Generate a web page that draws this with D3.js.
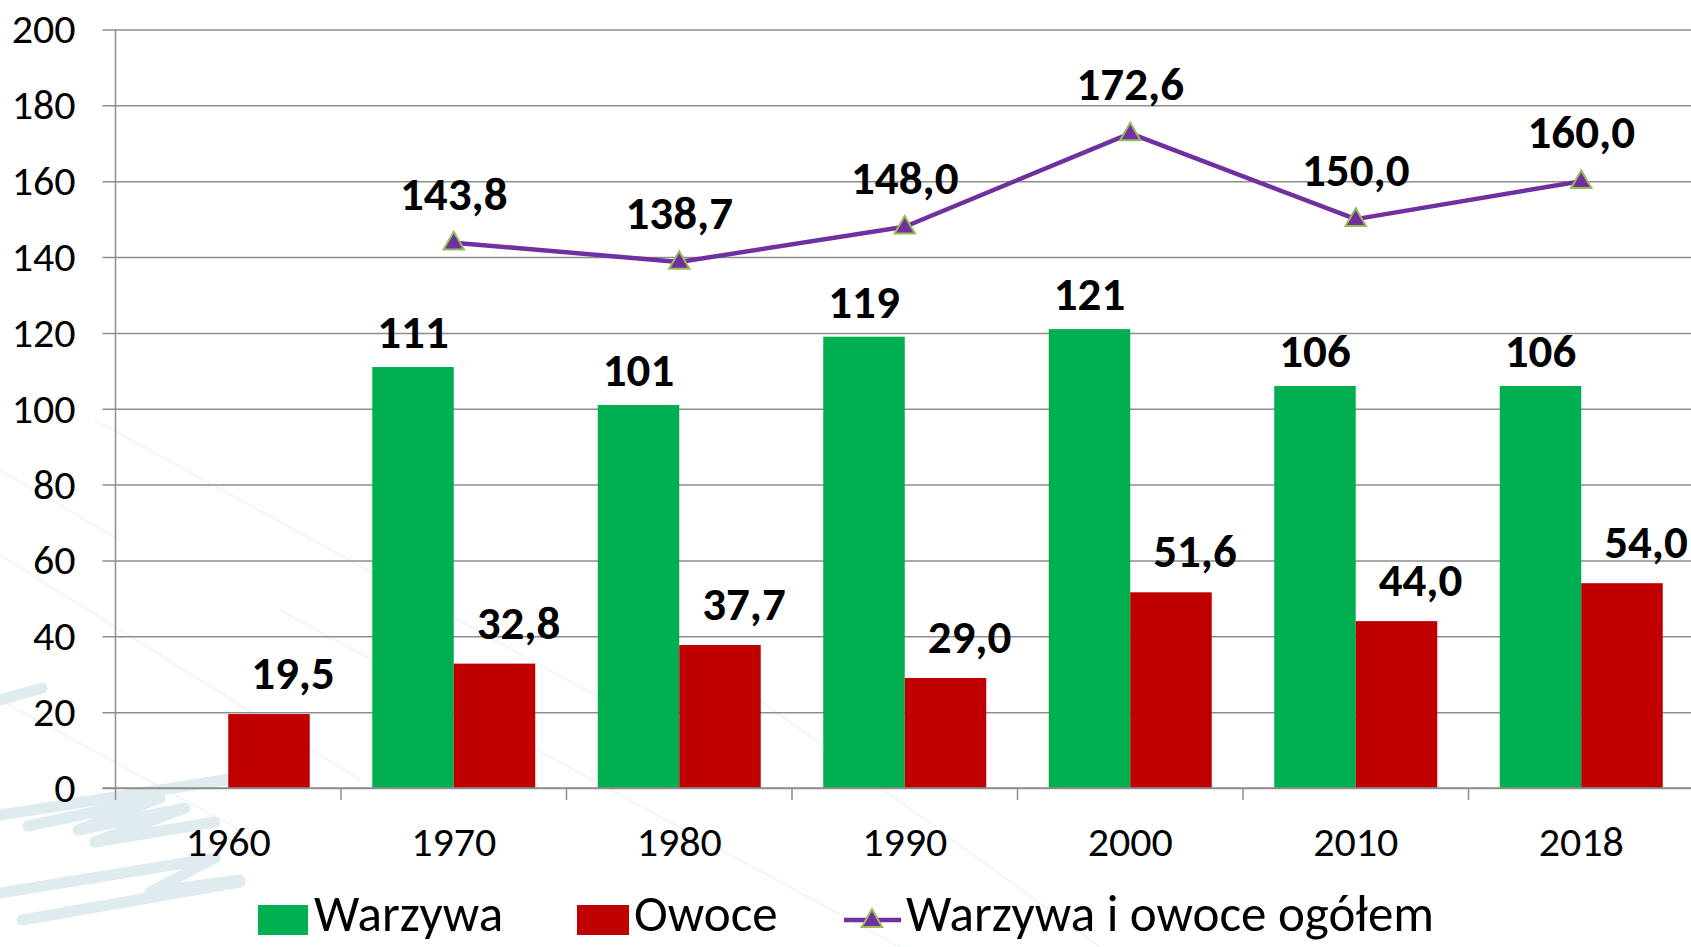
<!DOCTYPE html>
<html>
<head>
<meta charset="utf-8">
<script src="https://cdn.jsdelivr.net/npm/d3@7/dist/d3.min.js"></script>
<style>
html,body{margin:0;padding:0;background:#fff;overflow:hidden;}
svg{display:block;font-family:Carlito,Lato,"Open Sans",sans-serif;}
</style>
</head>
<body>
<svg id="chart" width="1691" height="947"></svg>
<script>
// ---- data ----
const categories = ["1960","1970","1980","1990","2000","2010","2018"];
const warzywa = [null,111,101,119,121,106,106];
const owoce = [19.5,32.8,37.7,29.0,51.6,44.0,54.0];
const ogolem = [null,143.8,138.7,148.0,172.6,150.0,160.0];
const yTicks = [0,20,40,60,80,100,120,140,160,180,200];
const seriesNames = ["Warzywa","Owoce","Warzywa i owoce ogółem"];

// ---- styles / layout ----
const cGreen = "#00B050", cRed = "#C00000", cLine = "#7030A0", cMarkStroke = "#9BBB59";
const gridColor = "#8e8e8e";
const pLeft = 115.5, pRight = 1694, pTop = 29.5, pBottom = 788;
const FONT = "Carlito,Lato,sans-serif";

const svg = d3.select("#chart");
const fmt1 = v => v.toFixed(1).replace(".", ",");

// watermark decoration (background)
const deco = svg.append("g").attr("class","watermark");
[[95,420,640,720],[0,555,360,780],[280,610,900,947],[0,700,240,830],[760,700,1100,947],[0,470,120,540]].forEach(l=>{
  deco.append("line").attr("x1",l[0]).attr("y1",l[1]).attr("x2",l[2]).attr("y2",l[3])
    .attr("stroke","#e9f1f4").attr("stroke-width",1.2);
});
const zig = [
  "M0,700 L42,688",
  "M0,815 L230,779",
  "M28,826 L160,798 L78,830 L185,808 L95,842 L215,822",
  "M0,893 L215,858 L150,892 L240,880",
  "M22,920 L240,882"
];
zig.forEach(p=>deco.append("path").attr("d",p).attr("fill","none")
  .attr("stroke","#dfebee").attr("stroke-width",11).attr("stroke-linejoin","round").attr("stroke-linecap","round"));

// scales
const x = d3.scaleBand().domain(categories).range([pLeft, pRight]).padding(0);
const y = d3.scaleLinear().domain([0,200]).range([pBottom, pTop]);
const bw = x.bandwidth();
const barW = bw * 0.3614;

// gridlines + y axis
const yAxis = d3.axisLeft(y).tickValues(yTicks).tickSize(-(pRight-pLeft)).tickSizeOuter(0).tickPadding(40);
const gy = svg.append("g").attr("transform",`translate(${pLeft},0)`).call(yAxis);
gy.select(".domain").remove();
gy.selectAll(".tick line").attr("stroke",gridColor).attr("stroke-width",1.5).attr("x1",-13);
gy.selectAll(".tick text").attr("font-size",42).attr("fill","#000").attr("font-family",FONT);

// y axis vertical line
svg.append("line").attr("x1",pLeft).attr("x2",pLeft).attr("y1",pTop).attr("y2",pBottom+12)
  .attr("stroke",gridColor).attr("stroke-width",1.5);

// x axis
const xAxis = d3.axisBottom(x).tickSize(0).tickPadding(38);
const gx = svg.append("g").attr("transform",`translate(0,${pBottom})`).call(xAxis);
gx.select(".domain").remove();
gx.selectAll(".tick text").attr("font-size",42).attr("fill","#000").attr("font-family",FONT);
// category boundary ticks
svg.append("g").selectAll("line").data(categories.slice(1)).join("line")
  .attr("x1",d=>x(d)).attr("x2",d=>x(d)).attr("y1",pBottom).attr("y2",pBottom+12)
  .attr("stroke",gridColor).attr("stroke-width",1.5);

// bars
const bars = svg.append("g");
bars.selectAll(".w").data(categories.map((c,i)=>({c,v:warzywa[i]})).filter(d=>d.v!=null)).join("rect")
  .attr("x",d=>x(d.c)+bw/2-barW).attr("width",barW)
  .attr("y",d=>y(d.v)).attr("height",d=>y(0)-y(d.v)).attr("fill",cGreen);
bars.selectAll(".o").data(categories.map((c,i)=>({c,v:owoce[i]}))).join("rect")
  .attr("x",d=>x(d.c)+bw/2).attr("width",barW)
  .attr("y",d=>y(d.v)).attr("height",d=>y(0)-y(d.v)).attr("fill",cRed);

// zero line redraw on top
svg.append("line").attr("x1",pLeft-13).attr("x2",pRight).attr("y1",pBottom).attr("y2",pBottom)
  .attr("stroke",gridColor).attr("stroke-width",1.5);

// line series
const lineData = categories.map((c,i)=>({c,v:ogolem[i]})).filter(d=>d.v!=null);
const line = d3.line().x(d=>x(d.c)+bw/2).y(d=>y(d.v));
svg.append("path").datum(lineData).attr("d",line).attr("fill","none")
  .attr("stroke",cLine).attr("stroke-width",4.5).attr("stroke-linejoin","round");
const tri = d3.symbol().type(d3.symbolTriangle).size(180);
svg.append("g").selectAll("path").data(lineData).join("path")
  .attr("d",tri).attr("transform",d=>`translate(${x(d.c)+bw/2},${y(d.v)+1})`)
  .attr("fill",cLine).attr("stroke",cMarkStroke).attr("stroke-width",2);

// labels
const lab = svg.append("g").attr("font-weight","bold").attr("font-size",47).attr("fill","#000")
  .attr("text-anchor","middle").attr("font-family",FONT);
lab.selectAll(".lw").data(categories.map((c,i)=>({c,v:warzywa[i]})).filter(d=>d.v!=null)).join("text")
  .attr("x",d=>x(d.c)+bw/2-barW/2).attr("y",d=>y(d.v)-19).text(d=>d3.format("d")(d.v));
lab.selectAll(".lo").data(categories.map((c,i)=>({c,v:owoce[i]}))).join("text")
  .attr("x",d=>x(d.c)+bw/2+barW/2+24).attr("y",d=>y(d.v)-25).text(d=>fmt1(d.v));
lab.selectAll(".ll").data(lineData).join("text")
  .attr("x",d=>x(d.c)+bw/2).attr("y",d=>y(d.v)-33).text(d=>fmt1(d.v));

// legend
const leg = svg.append("g").attr("font-size",51).attr("font-family",FONT);
leg.append("rect").attr("x",258).attr("y",905).attr("width",50).attr("height",30).attr("fill",cGreen);
leg.append("text").attr("x",314).attr("y",931).text(seriesNames[0]);
leg.append("rect").attr("x",577).attr("y",905).attr("width",52).attr("height",30).attr("fill",cRed);
leg.append("text").attr("x",634).attr("y",931).text(seriesNames[1]);
leg.append("line").attr("x1",844).attr("x2",901).attr("y1",920).attr("y2",920).attr("stroke",cLine).attr("stroke-width",4.5);
leg.append("path").attr("d",tri).attr("transform","translate(872,921)").attr("fill",cLine).attr("stroke",cMarkStroke).attr("stroke-width",2);
leg.append("text").attr("x",906).attr("y",931).text(seriesNames[2]);
</script>
</body>
</html>
